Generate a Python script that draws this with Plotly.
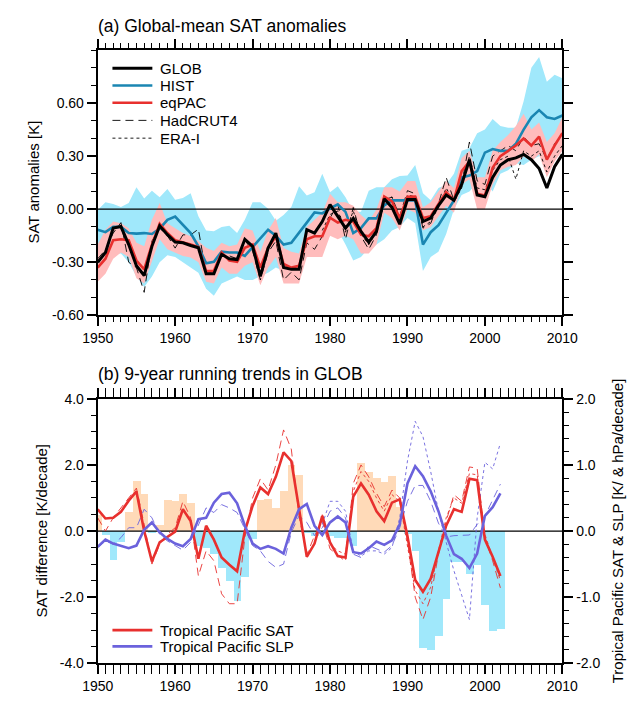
import plotly.graph_objects as go

# ---------------- data: panel (a) ----------------
years_a = list(range(1950, 2011))
glob = [-0.30, -0.245, -0.107, -0.098, -0.20, -0.32, -0.375, -0.21, -0.094, -0.144,
        -0.186, -0.19, -0.205, -0.218, -0.365, -0.365, -0.255, -0.28, -0.285, -0.17,
        -0.21, -0.38, -0.22, -0.135, -0.33, -0.34, -0.34, -0.116, -0.135, -0.07,
        0.026, -0.042, -0.107, -0.052, -0.125, -0.186, -0.125, 0.059, 0.01, -0.085,
        0.055, 0.055, -0.07, -0.05, 0.02, 0.08, 0.05, 0.14, 0.28, 0.08,
        0.07, 0.18, 0.25, 0.28, 0.29, 0.31, 0.28, 0.23, 0.12, 0.24, 0.31]
hist = [-0.116, -0.13, -0.10, -0.10, -0.135, -0.138, -0.135, -0.14, -0.11, -0.06,
        -0.042, -0.09, -0.135, -0.21, -0.306, -0.297, -0.24, -0.245, -0.245, -0.264,
        -0.215, -0.17, -0.116, -0.15, -0.20, -0.19, -0.135, -0.076, -0.018, -0.024,
        0.004, 0.028, -0.015, -0.135, -0.107, -0.052, -0.052, 0.022, 0.05, 0.05,
        0.05, 0.05, -0.20, -0.13, -0.09, -0.02, 0.05, 0.18, 0.19, 0.215,
        0.32, 0.34, 0.33, 0.33, 0.37, 0.45, 0.52, 0.56, 0.52, 0.51, 0.53]
eqpac = [-0.33, -0.28, -0.175, -0.17, -0.175, -0.29, -0.34, -0.20, -0.083, -0.135,
         -0.175, -0.186, -0.20, -0.214, -0.35, -0.35, -0.245, -0.29, -0.297, -0.218,
         -0.20, -0.33, -0.22, -0.153, -0.31, -0.33, -0.32, -0.17, -0.153, -0.153,
         -0.048, -0.076, -0.06, -0.07, -0.144, -0.153, -0.107, 0.072, 0.044, -0.05,
         0.07, 0.072, -0.05, -0.04, 0.03, 0.096, 0.05, 0.215, 0.27, 0.087,
         0.077, 0.234, 0.30, 0.33, 0.36, 0.40, 0.36, 0.41, 0.28, 0.36, 0.43]
hadcrut4 = [-0.28, -0.23, -0.135, -0.076, -0.30, -0.33, -0.47, -0.18, -0.107, -0.15,
            -0.22, -0.145, -0.145, -0.113, -0.365, -0.357, -0.255, -0.264, -0.28, -0.175,
            -0.236, -0.40, -0.245, -0.18, -0.40, -0.356, -0.40, -0.19, -0.227, -0.153,
            -0.05, 0.028, -0.17, 0.01, -0.153, -0.227, -0.144, 0.054, 0.068, -0.04,
            0.105, 0.087, -0.107, -0.08, 0.03, 0.18, 0.05, 0.14, 0.38, 0.16,
            0.14, 0.30, 0.33, 0.36, 0.33, 0.41, 0.36, 0.37, 0.28, 0.37, 0.42]
years_era = list(range(1979, 2011))
erai = [-0.12, -0.03, -0.01, -0.13, -0.01, -0.14, -0.20, -0.13, 0.03, 0.07,
        -0.06, 0.08, 0.07, -0.10, -0.07, 0.01, 0.12, 0.04, 0.12, 0.30,
        0.12, 0.11, 0.22, 0.28, 0.30, 0.17, 0.33, 0.30, 0.33, 0.21, 0.30, 0.36]
hist_hi = [-0.005, 0.04, 0.03, 0.013, 0.035, 0.124, 0.06, 0.105, 0.068, 0.114,
           0.054, 0.063, 0.09, -0.04, -0.12, -0.125, -0.10, -0.094, -0.135, -0.06,
           0.04, 0.04, 0.003, -0.065, -0.033, 0.013, 0.13, 0.077, 0.096, 0.20,
           0.096, 0.13, 0.068, -0.015, -0.015, 0.105, 0.124, 0.124, 0.17, 0.188,
           0.19, 0.25, 0.09, 0.05, 0.12, 0.14, 0.20, 0.33, 0.345, 0.43,
           0.45, 0.51, 0.47, 0.46, 0.46, 0.61, 0.80, 0.86, 0.72, 0.76, 0.74]
hist_lo = [-0.25, -0.28, -0.25, -0.25, -0.30, -0.38, -0.44, -0.38, -0.30, -0.26,
           -0.27, -0.30, -0.33, -0.36, -0.45, -0.49, -0.42, -0.40, -0.38, -0.40,
           -0.40, -0.38, -0.36, -0.33, -0.35, -0.36, -0.33, -0.26, -0.22, -0.22,
           -0.15, -0.12, -0.20, -0.29, -0.27, -0.22, -0.20, -0.17, -0.12, -0.10,
           -0.05, -0.08, -0.35, -0.27, -0.24, -0.14, 0.0, 0.08, 0.10, 0.15,
           0.16, 0.10, 0.20, 0.22, 0.26, 0.25, 0.28, 0.30, 0.30, 0.30, 0.33]
eqpac_hi = [-0.20, -0.116, -0.07, -0.08, -0.107, -0.19, -0.21, -0.06, 0.035, -0.08,
            -0.107, -0.135, -0.153, -0.18, -0.218, -0.236, -0.19, -0.21, -0.20, -0.107,
            -0.12, -0.24, -0.12, -0.05, -0.22, -0.24, -0.25, -0.10, -0.06, -0.02,
            0.087, 0.04, 0.04, 0.02, -0.033, -0.07, 0.0, 0.124, 0.124, 0.10,
            0.16, 0.16, 0.01, 0.04, 0.10, 0.16, 0.12, 0.29, 0.33, 0.18,
            0.18, 0.33, 0.38, 0.42, 0.47, 0.54, 0.45, 0.49, 0.38, 0.43, 0.52]
eqpac_lo = [-0.41, -0.365, -0.28, -0.245, -0.27, -0.39, -0.42, -0.30, -0.17, -0.227,
            -0.245, -0.264, -0.273, -0.30, -0.41, -0.42, -0.33, -0.365, -0.365, -0.32,
            -0.30, -0.43, -0.33, -0.27, -0.42, -0.42, -0.42, -0.27, -0.27, -0.27,
            -0.15, -0.17, -0.15, -0.17, -0.25, -0.25, -0.20, -0.02, -0.05, -0.12,
            0.0, -0.02, -0.12, -0.10, -0.04, 0.02, -0.02, 0.14, 0.17, 0.0,
            0.0, 0.14, 0.22, 0.24, 0.25, 0.30, 0.27, 0.31, 0.18, 0.27, 0.33]

# ---------------- data: panel (b) ----------------
years_b = list(range(1950, 2003))
glob_trend = [0.5, -0.12, -0.88, -0.32, 0.57, 1.52, 1.11, -0.05, 0.19, 0.93,
              0.9, 1.14, 0.85, -0.45, -0.5, -0.7, -1.1, -1.5, -2.1, -1.4,
              -0.25, 0.95, 0.97, 0.7, 1.21, 2.0, 1.71, -0.06, -0.16, -0.05,
              -0.14, -0.22, -0.22, -0.45, 2.05, 1.78, 1.6, 1.5, 1.66, 0.72,
              -0.1, -0.6, -3.54, -3.6, -3.17, -2.06, -0.93, -0.93, -1.3, -1.02,
              -2.23, -3.01, -2.95]
tp_sat = [0.33, 0.19, 0.2, 0.29, 0.46, 0.6, 0.0, -0.46, -0.17, -0.09,
          -0.01, 0.33, 0.15, -0.42, 0.08, -0.13, -0.4, -0.51, -0.61, 0.0,
          0.38, 0.66, 0.56, 0.82, 1.19, 1.06, 0.33, -0.39, -0.19, 0.23,
          -0.17, -0.38, -0.4, 0.52, 0.72, 0.55, 0.3, 0.15, 0.43, 0.48,
          -0.08, -0.74, -0.92, -0.72, -0.32, 0.08, 0.33, 0.29, 0.79, 0.77,
          -0.13, -0.39, -0.68]
tp_slp = [-0.24, -0.13, -0.19, -0.23, -0.26, -0.22, 0.02, 0.13, -0.02, -0.12,
          -0.19, -0.23, -0.12, 0.18, 0.2, 0.43, 0.56, 0.58, 0.42, 0.08,
          -0.19, -0.27, -0.23, -0.27, -0.34, 0.05, 0.33, 0.41, 0.08, -0.06,
          0.13, 0.22, 0.13, -0.32, -0.34, -0.26, -0.16, -0.21, -0.14, 0.1,
          0.72, 0.98, 0.83, 0.6, 0.3, -0.07, -0.35, -0.42, -0.56, -0.34,
          0.23, 0.36, 0.57]
tp_sat_obs1 = [0.2, 0.0, 0.2, 0.35, 0.5, 0.65, 0.1, -0.5, -0.2, -0.05,
               0.05, 0.45, 0.2, -0.68, -0.3, -0.45, -0.95, -1.1, -1.1, -0.1,
               0.5, 0.79, 0.62, 1.0, 1.53, 1.24, 0.23, -0.36, -0.07, 0.15,
               -0.27, -0.36, -0.46, 0.72, 1.0, 0.82, 0.57, 0.37, 0.62, 0.5,
               -0.15, -1.0, -1.34, -1.0, -0.35, 0.15, 0.55, 0.45, 0.97, 0.95,
               -0.1, -0.45, -0.86]
years_b2 = list(range(1979, 2003))
tp_sat_obs2 = [0.25, -0.2, -0.3, -0.35, 0.6, 0.9, 0.75, 0.5, 0.3, 0.55,
               0.45, -0.2, -0.9, -1.1, -0.85, -0.3, 0.2, 0.5, 0.42, 0.87,
               0.85, -0.05, -0.4, -0.75]
tp_slp_obs1 = [-0.25, -0.15, -0.2, -0.1, 0.05, 0.05, 0.33, 0.2, -0.05, -0.15,
               -0.22, -0.29, -0.17, 0.08, 0.35, 0.28, 0.4, 0.35, 0.28, 0.03,
               -0.22, -0.3, -0.46, -0.55, -0.5, -0.02, 0.23, 0.13, -0.07, 0.05,
               0.3, 0.35, 0.2, -0.35, -0.4, -0.22, -0.27, -0.32, -0.22, 0.05,
               0.45, 0.69, 0.69, 0.45, 0.12, -0.09, -0.07, -0.06, -0.06, 0.1,
               0.23, 0.47, 0.71]
tp_slp_obs2 = [0.1, 0.45, 0.45, 0.3, -0.3, -0.38, -0.3, -0.3, -0.35, -0.25,
               0.2, 1.06, 1.66, 1.43, 0.9, 0.3, -0.17, -0.6, -0.97, -1.34,
               0.2, 1.04, 0.94, 1.33]
zero_x = [1950, 2010]
zero_y = [0, 0]

legend_a = ["GLOB", "HIST", "eqPAC", "HadCRUT4", "ERA-I"]
legend_b = ["Tropical Pacific SAT", "Tropical Pacific SLP"]

# ---------------- styling ----------------
W, H = 642, 701
FONT = "Liberation Sans, Arial, Helvetica, sans-serif"
BLACK = "black"
CYAN = "#a0e8fb"
PINK = "#ffbcbc"
ORANGE = "#ffdab8"
HIST_C = "#1a86b2"
RED = "#e8302e"
SLP_C = "#6b62dc"

XD = [86 / W, 575 / W]
YA = [1 - 314.5 / H, 1 - 43 / H]
YB = [1 - 670.5 / H, 1 - 400 / H]

fig = go.Figure()

# panel (a)
fig.add_trace(go.Scatter(x=years_a + years_a[::-1], y=hist_hi + hist_lo[::-1],
                         fill="toself", fillcolor=CYAN, line=dict(width=0),
                         mode="lines", showlegend=False, hoverinfo="skip",
                         xaxis="x", yaxis="y"))
fig.add_trace(go.Scatter(x=years_a + years_a[::-1], y=eqpac_hi + eqpac_lo[::-1],
                         fill="toself", fillcolor=PINK, line=dict(width=0),
                         mode="lines", showlegend=False, hoverinfo="skip",
                         xaxis="x", yaxis="y"))
fig.add_trace(go.Scatter(x=zero_x, y=zero_y, mode="lines",
                         line=dict(color=BLACK, width=1.3), showlegend=False,
                         hoverinfo="skip", xaxis="x", yaxis="y"))
fig.add_trace(go.Scatter(x=years_a, y=hadcrut4, mode="lines", name="HadCRUT4",
                         line=dict(color=BLACK, width=0.9, dash="8px,5px"),
                         showlegend=False, xaxis="x", yaxis="y"))
fig.add_trace(go.Scatter(x=years_era, y=erai, mode="lines", name="ERA-I",
                         line=dict(color=BLACK, width=0.9, dash="3px,3px"),
                         showlegend=False, xaxis="x", yaxis="y"))
fig.add_trace(go.Scatter(x=years_a, y=hist, mode="lines", name="HIST",
                         line=dict(color=HIST_C, width=2.6),
                         showlegend=False, xaxis="x", yaxis="y"))
fig.add_trace(go.Scatter(x=years_a, y=eqpac, mode="lines", name="eqPAC",
                         line=dict(color=RED, width=2.6),
                         showlegend=False, xaxis="x", yaxis="y"))
fig.add_trace(go.Scatter(x=years_a, y=glob, mode="lines", name="GLOB",
                         line=dict(color=BLACK, width=3),
                         showlegend=False, xaxis="x", yaxis="y"))

# panel (b)
bar_colors = [ORANGE if v > 0 else CYAN for v in glob_trend]
fig.add_trace(go.Bar(x=years_b, y=glob_trend, width=1.0,
                     marker=dict(color=bar_colors, line=dict(width=0)),
                     showlegend=False, hoverinfo="skip", xaxis="x2", yaxis="y2"))
fig.add_trace(go.Scatter(x=zero_x, y=zero_y, mode="lines",
                         line=dict(color=BLACK, width=1.3), showlegend=False,
                         hoverinfo="skip", xaxis="x2", yaxis="y3"))
fig.add_trace(go.Scatter(x=years_b, y=tp_sat_obs1, mode="lines", showlegend=False,
                         line=dict(color=RED, width=0.9, dash="8px,5px"), xaxis="x2", yaxis="y3"))
fig.add_trace(go.Scatter(x=years_b2, y=tp_sat_obs2, mode="lines", showlegend=False,
                         line=dict(color=RED, width=0.9, dash="3px,3px"), xaxis="x2", yaxis="y3"))
fig.add_trace(go.Scatter(x=years_b, y=tp_slp_obs1, mode="lines", showlegend=False,
                         line=dict(color=SLP_C, width=0.9, dash="8px,5px"), xaxis="x2", yaxis="y3"))
fig.add_trace(go.Scatter(x=years_b2, y=tp_slp_obs2, mode="lines", showlegend=False,
                         line=dict(color=SLP_C, width=0.9, dash="3px,3px"), xaxis="x2", yaxis="y3"))
fig.add_trace(go.Scatter(x=years_b, y=tp_sat, mode="lines", name="Tropical Pacific SAT",
                         line=dict(color=RED, width=2.6), showlegend=False,
                         xaxis="x2", yaxis="y3"))
fig.add_trace(go.Scatter(x=years_b, y=tp_slp, mode="lines", name="Tropical Pacific SLP",
                         line=dict(color=SLP_C, width=2.6), showlegend=False,
                         xaxis="x2", yaxis="y3"))

tickfont = dict(family=FONT, size=14, color=BLACK)
minor_x = dict(tickmode="linear", tick0=1950, dtick=1, ticks="outside", ticklen=5,
               tickwidth=1.2, tickcolor=BLACK, showgrid=False)


def xaxis(anchor):
    return dict(domain=XD, anchor=anchor, range=[1950, 2010], tickmode="linear",
                tick0=1950, dtick=10, ticks="outside", ticklen=9, tickwidth=2,
                tickcolor=BLACK, showline=True, linecolor=BLACK, linewidth=2,
                mirror="allticks", showgrid=False, zeroline=False, minor=minor_x,
                tickfont=tickfont, fixedrange=True)


# manual legends (decoration drawn in paper space)
leg_styles_a = [dict(color=BLACK, width=3), dict(color=HIST_C, width=2.6),
                dict(color=RED, width=2.6), dict(color=BLACK, width=0.9, dash="8px,5px"),
                dict(color=BLACK, width=0.9, dash="3px,3px")]
leg_rows_a = [61.7, 79.3, 96.9, 115.0, 133.2]
leg_styles_b = [dict(color=RED, width=2.6), dict(color=SLP_C, width=2.6)]
leg_rows_b = [636.7, 653.3]

shapes = []
annotations = []
for name, st, yy in list(zip(legend_a, leg_styles_a, leg_rows_a)) + list(zip(legend_b, leg_styles_b, leg_rows_b)):
    shapes.append(dict(type="line", xref="paper", yref="paper",
                       x0=101.5 / W, x1=143.5 / W, y0=1 - yy / H, y1=1 - yy / H,
                       line=st))
    annotations.append(dict(text=name, xref="paper", yref="paper", x=149 / W, y=1 - yy / H,
                            xanchor="left", yanchor="middle", showarrow=False,
                            font=dict(family=FONT, size=15, color=BLACK)))

annotations += [
    dict(text="(a) Global-mean SAT anomalies", xref="paper", yref="paper",
         x=84 / W, y=1 - 18 / H, xanchor="left", yanchor="middle",
         showarrow=False, font=dict(family=FONT, size=17.5, color=BLACK)),
    dict(text="(b) 9-year running trends in GLOB", xref="paper", yref="paper",
         x=84 / W, y=1 - 375 / H, xanchor="left", yanchor="middle",
         showarrow=False, font=dict(family=FONT, size=17.5, color=BLACK)),
    dict(text="SAT anomalies [K]", xref="paper", yref="paper",
         x=18 / W, y=1 - 178.5 / H, xanchor="center", yanchor="middle",
         textangle=-90, showarrow=False, font=dict(family=FONT, size=15, color=BLACK)),
    dict(text="SAT difference [K/decade]", xref="paper", yref="paper",
         x=27 / W, y=1 - 535 / H, xanchor="center", yanchor="middle",
         textangle=-90, showarrow=False, font=dict(family=FONT, size=15, color=BLACK)),
    dict(text="Tropical Pacific SAT & SLP [K/ & hPa/decade]", xref="paper", yref="paper",
         x=633 / W, y=1 - 535 / H, xanchor="center", yanchor="middle",
         textangle=-90, showarrow=False, font=dict(family=FONT, size=15, color=BLACK)),
]

fig.update_layout(
    width=W, height=H, margin=dict(l=0, r=0, t=0, b=0),
    paper_bgcolor="white", plot_bgcolor="white", bargap=0, showlegend=False,
    font=dict(family=FONT, size=14, color=BLACK),
    xaxis=xaxis("y"),
    xaxis2=xaxis("y2"),
    yaxis=dict(domain=YA, anchor="x", range=[-0.6, 0.9], tickmode="array",
               tickvals=[-0.6, -0.3, 0.0, 0.3, 0.6],
               ticktext=["-0.60", "-0.30", "0.00", "0.30", "0.60"],
               ticks="outside", ticklen=9, tickwidth=2, tickcolor=BLACK,
               showline=True, linecolor=BLACK, linewidth=2, mirror="allticks",
               showgrid=False, zeroline=False, tickfont=tickfont, fixedrange=True,
               minor=dict(tickmode="linear", tick0=0, dtick=0.1, ticks="outside",
                          ticklen=5, tickwidth=1.2, tickcolor=BLACK, showgrid=False)),
    yaxis2=dict(domain=YB, anchor="x2", range=[-4, 4], tickmode="array",
                tickvals=[-4, -2, 0, 2, 4],
                ticktext=["-4.0", "-2.0", "0.0", "2.0", "4.0"],
                ticks="outside", ticklen=9, tickwidth=2, tickcolor=BLACK,
                showline=True, linecolor=BLACK, linewidth=2, mirror=False,
                showgrid=False, zeroline=False, tickfont=tickfont, fixedrange=True,
                minor=dict(tickmode="linear", tick0=0, dtick=0.5, ticks="outside",
                           ticklen=5, tickwidth=1.2, tickcolor=BLACK, showgrid=False)),
    yaxis3=dict(domain=YB, anchor="x2", overlaying="y2", side="right", range=[-2, 2],
                tickmode="array", tickvals=[-2, -1, 0, 1, 2],
                ticktext=["-2.0", "-1.0", "0.0", "1.0", "2.0"],
                ticks="outside", ticklen=9, tickwidth=2, tickcolor=BLACK,
                showline=True, linecolor=BLACK, linewidth=2, fixedrange=True,
                showgrid=False, zeroline=False, tickfont=tickfont,
                minor=dict(tickmode="linear", tick0=0, dtick=0.2, ticks="outside",
                           ticklen=5, tickwidth=1.2, tickcolor=BLACK, showgrid=False)),
    shapes=shapes,
    annotations=annotations,
)

fig.write_html("out.html")
